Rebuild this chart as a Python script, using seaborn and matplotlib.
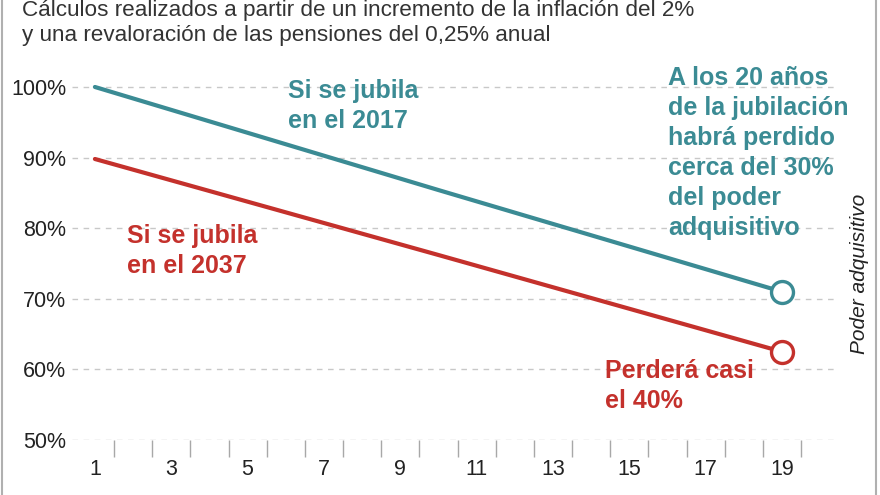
import matplotlib
matplotlib.use("Agg")
import matplotlib.pyplot as plt
import seaborn as sns
import pandas as pd
from matplotlib.lines import Line2D

# ---- data ----
years = [1, 10, 19]
pct_2017 = [100.0, 85.4, 71.0]
pct_2037 = [89.8, 76.2, 62.5]
series = ["Si se jubila en el 2017", "Si se jubila en el 2037"]
y_ticks = [50, 60, 70, 80, 90, 100]
x_labels = [1, 3, 5, 7, 9, 11, 13, 15, 17, 19]
x_minor = [1.5, 2.5, 3.5, 4.5, 5.5, 6.5, 7.5, 8.5, 9.5, 10.5, 11.5, 12.5,
           13.5, 14.5, 15.5, 16.5, 17.5, 18.5, 19.5]

title_1 = "Cálculos realizados a partir de un incremento de la inflación del 2%"
title_2 = "y una revaloración de las pensiones del 0,25% anual"

TEAL = "#3b8b94"
RED = "#c4312c"
GRID = "#c8c8c8"
TXT = "#222222"

sns.set_theme(style="white")
plt.rcParams["font.family"] = ["Liberation Sans", "DejaVu Sans"]

df = pd.DataFrame({
    "Año": years + years,
    "Poder": pct_2017 + pct_2037,
    "Serie": [series[0]] * len(years) + [series[1]] * len(years),
})

W, H = 880, 495
fig = plt.figure(figsize=(W / 100, H / 100), dpi=100)
fig.patch.set_facecolor("white")
ax = fig.add_axes([72 / W, 1 - 440 / H, (837 - 72) / W, (440 - 60) / H])
ax.set_facecolor("white")

ax.set_xlim(0.40, 20.44)
ax.set_ylim(50, 103.82)

# dashed gridlines
ax.set_yticks(y_ticks)
ax.set_yticklabels([f"{v}%" for v in y_ticks])
ax.yaxis.grid(True, color=GRID, lw=1.0, ls=(0, (4, 4)))
ax.xaxis.grid(False)
ax.set_axisbelow(True)

sns.lineplot(data=df, x="Año", y="Poder", hue="Serie",
             palette=[TEAL, RED], lw=3.0, legend=False, ax=ax, zorder=3)

# end markers
ax.scatter([years[-1]], [pct_2017[-1]], s=250, facecolor="white",
           edgecolor=TEAL, linewidth=2.4, zorder=5)
ax.scatter([years[-1]], [pct_2037[-1]], s=250, facecolor="white",
           edgecolor=RED, linewidth=2.4, zorder=5)

# x axis ticks
ax.set_xticks(x_labels)
ax.set_xticklabels([str(v) for v in x_labels])
ax.set_xticks(x_minor, minor=True)
ax.tick_params(axis="x", which="both", bottom=True)
ax.tick_params(axis="x", which="major", length=0, pad=14, labelsize=15.5,
               labelcolor=TXT)
ax.tick_params(axis="x", which="minor", length=12, width=1.0,
               color="#a8a8a8", direction="out")
ax.tick_params(axis="y", which="both", length=0, pad=4, labelsize=15.5,
               labelcolor=TXT)
ax.set_xlabel("")
ax.set_ylabel("")
for s in ax.spines.values():
    s.set_visible(False)

# annotations (va='baseline' anchors the last line)
ax.text(6.06, 94.19, "Si se jubila\nen el 2017", color=TEAL, fontsize=18,
        fontweight="bold", ha="left", va="baseline", linespacing=1.3)
ax.text(1.84, 73.65, "Si se jubila\nen el 2037", color=RED, fontsize=18,
        fontweight="bold", ha="left", va="baseline", linespacing=1.3)
ax.text(16.01, 79.04,
        "A los 20 años\nde la jubilación\nhabrá perdido\ncerca del 30%\ndel poder\nadquisitivo",
        color=TEAL, fontsize=18, fontweight="bold", ha="left", va="baseline",
        linespacing=1.32)
ax.text(14.36, 54.53, "Perderá casi\nel 40%", color=RED, fontsize=18,
        fontweight="bold", ha="left", va="baseline", linespacing=1.3)

# right axis title
fig.text(859 / W, 1 - 274 / H, "Poder adquisitivo", rotation=90,
         fontsize=15, fontstyle="italic", color=TXT, ha="center", va="center")

# title lines
fig.text(22 / W, 1 - 16 / H, title_1, fontsize=16.2, color="#333333",
         ha="left", va="baseline")
fig.text(22 / W, 1 - 41 / H, title_2, fontsize=16.2, color="#333333",
         ha="left", va="baseline")

# frame lines at left/right edges
fig.add_artist(Line2D([2 / W, 2 / W], [0, 1], color="#b0b0b0", lw=1.5,
                      transform=fig.transFigure))
fig.add_artist(Line2D([876 / W, 876 / W], [0, 1], color="#b0b0b0", lw=1.5,
                      transform=fig.transFigure))

fig.savefig("out.png", dpi=100, facecolor="white")
